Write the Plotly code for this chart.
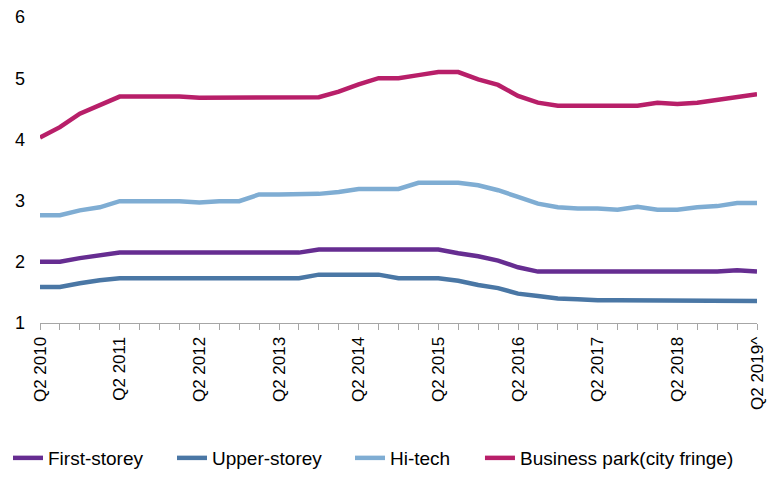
import plotly.graph_objects as go

quarters = [f"Q{q} {y}" for y in range(2010, 2020) for q in (1, 2, 3, 4)][1:38]
tick_idx = list(range(0, 37, 4))
tick_labels = ["Q2 2010", "Q2 2011", "Q2 2012", "Q2 2013", "Q2 2014",
               "Q2 2015", "Q2 2016", "Q2 2017", "Q2 2018", "Q2 2019^"]

first_storey = [2.00, 2.00, 2.06, 2.11,
                2.15, 2.15, 2.15, 2.15, 2.15, 2.15, 2.15, 2.15, 2.15, 2.15,
                2.20, 2.20, 2.20, 2.20, 2.20, 2.20, 2.20,
                2.14, 2.09, 2.02, 1.91,
                1.84, 1.84, 1.84, 1.84, 1.84, 1.84, 1.84, 1.84, 1.84, 1.84,
                1.86, 1.84]
upper_storey = [1.59, 1.59, 1.65, 1.70,
                1.73, 1.73, 1.73, 1.73, 1.73, 1.73, 1.73, 1.73, 1.73, 1.73,
                1.79, 1.79, 1.79, 1.79,
                1.73, 1.73, 1.73,
                1.69, 1.62, 1.57, 1.48, 1.44, 1.40, 1.39,
                1.37, 1.37, 1.37, 1.37, 1.37, 1.37, 1.37, 1.37,
                1.36]
hi_tech = [2.76, 2.76, 2.84, 2.89, 2.99, 2.99, 2.99, 2.99, 2.97, 2.99,
           2.99, 3.10, 3.10, 3.10, 3.11, 3.14, 3.19, 3.19, 3.19, 3.29,
           3.29, 3.29, 3.25, 3.17, 3.06, 2.95, 2.89, 2.87, 2.87, 2.85,
           2.90, 2.85, 2.85, 2.89, 2.91, 2.96, 2.96]
business_park = [4.03, 4.20, 4.42, 4.57, 4.70, 4.70, 4.70, 4.70, 4.68, 4.68,
                 4.68, 4.68, 4.68, 4.68, 4.69, 4.78, 4.90, 5.00, 5.00, 5.05,
                 5.10, 5.10, 4.98, 4.89, 4.71, 4.60, 4.55, 4.55, 4.55, 4.55,
                 4.55, 4.60, 4.58, 4.60, 4.65, 4.69, 4.74]

series = [
    ("First-storey", first_storey, "#662d91"),
    ("Upper-storey", upper_storey, "#4a77a5"),
    ("Hi-tech", hi_tech, "#7fadd3"),
    ("Business park(city fringe)", business_park, "#b81f69"),
]
legend_x = [0.0102, 0.2194, 0.4464, 0.6122]

x = list(range(len(quarters)))
font = "Liberation Sans, Arial, sans-serif"

fig = go.Figure()
legend_names = ["legend", "legend2", "legend3", "legend4"]
for (name, vals, color), lg in zip(series, legend_names):
    fig.add_trace(go.Scatter(x=x, y=vals, name=name, mode="lines",
                             line=dict(color=color, width=4.5),
                             hovertext=quarters, legend=lg))

legend_layout = {}
for lg, lx in zip(legend_names, legend_x):
    legend_layout[lg] = dict(orientation="h", xref="container", yref="container",
                             x=lx, xanchor="left", y=0.0747, yanchor="middle",
                             font=dict(size=19, family=font),
                             itemwidth=30, bgcolor="rgba(0,0,0,0)")

fig.update_layout(
    width=784, height=495,
    margin=dict(l=40, r=27, t=17, b=172, autoexpand=False),
    plot_bgcolor="white", paper_bgcolor="white",
    font=dict(family=font, color="#000000"),
    showlegend=True,
    xaxis=dict(range=[0, 36], tickvals=tick_idx, ticktext=tick_labels,
               tickangle=-90, showgrid=False, zeroline=False,
               showline=True, linecolor="#a6a6a6", linewidth=1,
               ticks="outside", ticklen=6, tickcolor="#a6a6a6",
               automargin=False,
               tickfont=dict(size=17, family=font),
               minor=dict(dtick=1, tick0=0, ticks="outside", ticklen=6,
                          tickcolor="#a6a6a6")),
    yaxis=dict(range=[1, 6], dtick=1, showgrid=False, zeroline=False,
               showline=False, ticks="", ticklabelstandoff=14,
               automargin=False,
               tickfont=dict(size=18, family=font)),
    **legend_layout,
)

fig.write_html("out.html")
